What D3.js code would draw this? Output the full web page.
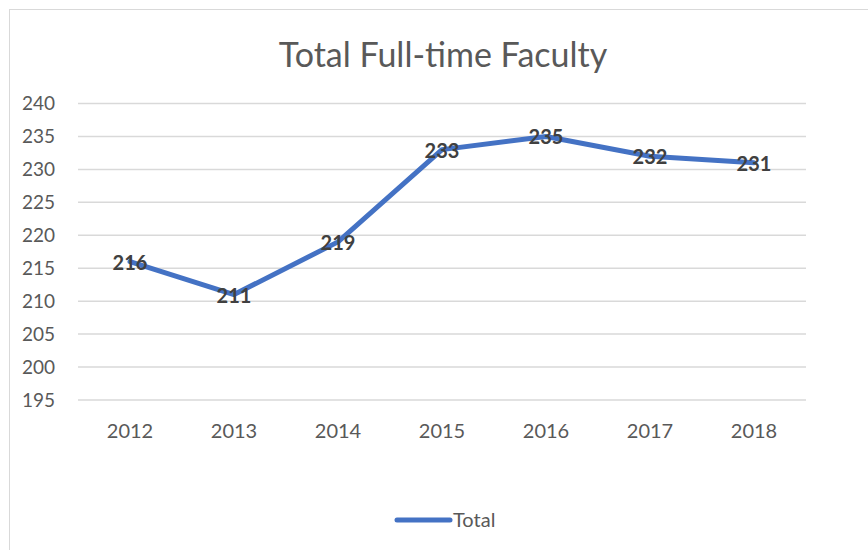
<!DOCTYPE html>
<html>
<head>
<meta charset="utf-8">
<script src="https://cdn.jsdelivr.net/npm/d3@7"></script>
<style>
  body { margin: 0; background: white; }
  text { font-family: Lato, "Open Sans", sans-serif; }
</style>
</head>
<body>
<div id="chart"></div>
<script>
const years = ["2012", "2013", "2014", "2015", "2016", "2017", "2018"]
const totals = [216, 211, 219, 233, 235, 232, 231]
const yTicks = [195, 200, 205, 210, 215, 220, 225, 230, 235, 240]
const seriesName = "Total"
const chartTitle = "Total Full-time Faculty"

const width = 868
const height = 550
const lineColor = "#4472C4"
const textColor = "#595959"

const svg = d3.select("#chart").append("svg")
    .attr("width", width)
    .attr("height", height)

// outer chart border
svg.append("rect")
    .attr("x", 9.5)
    .attr("y", 9.5)
    .attr("width", 880)
    .attr("height", 560)
    .style("fill", "white")
    .style("stroke", "#d9d9d9")
    .style("stroke-width", 1)

const plot = { left: 78, right: 806, top: 103.5, bottom: 400 }

const x = d3.scaleBand()
    .domain(years)
    .range([plot.left, plot.right])

const y = d3.scaleLinear()
    .domain([195, 240])
    .range([plot.bottom, plot.top])

// title
svg.append("text")
    .attr("x", 443)
    .attr("y", 67)
    .attr("text-anchor", "middle")
    .style("font-size", "34px")
    .style("fill", textColor)
    .text(chartTitle)

// gridlines
svg.append("g")
    .selectAll("line")
    .data(yTicks)
    .join("line")
    .attr("x1", plot.left)
    .attr("x2", plot.right)
    .attr("y1", d => y(d))
    .attr("y2", d => y(d))
    .style("stroke", "#d9d9d9")
    .style("stroke-width", 1.5)

// y axis labels
const yAxis = svg.append("g")
    .attr("transform", "translate(" + (plot.left - 23) + ",0)")
    .call(d3.axisLeft(y).tickValues(yTicks).tickSize(0).tickPadding(0))
yAxis.select(".domain").remove()
yAxis.selectAll("text")
    .style("font-size", "19px")
    .style("font-family", "Lato, 'Open Sans', sans-serif")
    .style("fill", textColor)

// x axis labels
const xAxis = svg.append("g")
    .attr("transform", "translate(0," + (plot.bottom + 24) + ")")
    .call(d3.axisBottom(x).tickSize(0).tickPadding(0))
xAxis.select(".domain").remove()
xAxis.selectAll("text")
    .style("font-size", "20px")
    .style("font-family", "Lato, 'Open Sans', sans-serif")
    .style("fill", textColor)

// the line
const line = d3.line()
    .x((d, i) => x(years[i]) + x.bandwidth() / 2)
    .y(d => y(d))

svg.append("path")
    .datum(totals)
    .attr("d", line)
    .style("fill", "none")
    .style("stroke", lineColor)
    .style("stroke-width", 5)
    .style("stroke-linecap", "round")
    .style("stroke-linejoin", "round")

// data labels
svg.append("g")
    .selectAll("text")
    .data(totals)
    .join("text")
    .attr("x", (d, i) => x(years[i]) + x.bandwidth() / 2)
    .attr("y", d => y(d))
    .attr("dy", "0.4em")
    .attr("text-anchor", "middle")
    .style("font-size", "20px")
    .style("font-weight", "bold")
    .style("fill", "#404040")
    .text(d => d)

// legend
const legend = svg.append("g")
    .attr("transform", "translate(397,520)")
legend.append("line")
    .attr("x1", 0)
    .attr("x2", 53)
    .style("stroke", lineColor)
    .style("stroke-width", 5)
    .style("stroke-linecap", "round")
legend.append("text")
    .attr("x", 56)
    .attr("dy", "0.36em")
    .style("font-size", "20px")
    .style("fill", textColor)
    .text(seriesName)
</script>
</body>
</html>
